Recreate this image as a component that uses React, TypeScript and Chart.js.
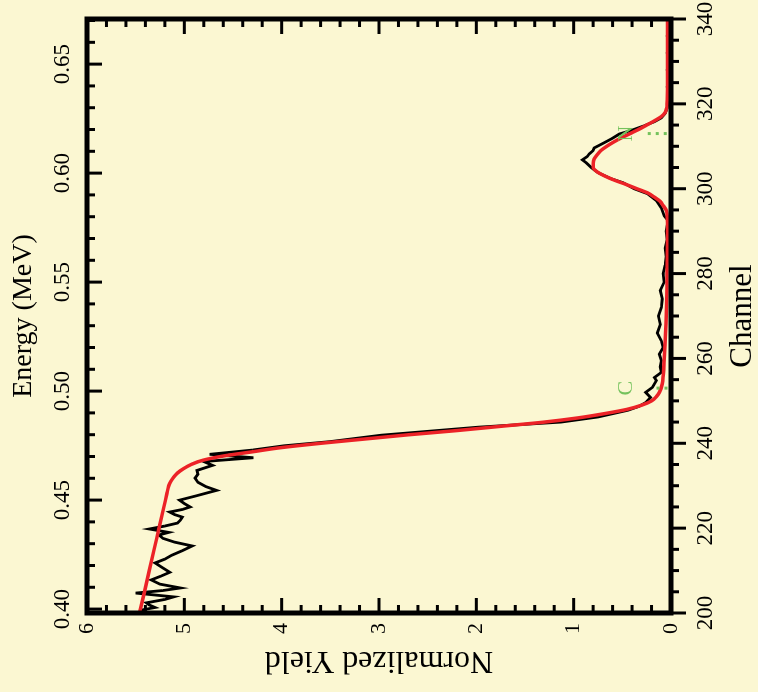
import React, { useEffect, useRef } from 'react';
import { Chart, registerables } from 'chart.js';

Chart.register(...registerables);

// Axis ticks
const channelTicks = [200, 220, 240, 260, 280, 300, 320, 340];
const energyTicks = [0.4, 0.45, 0.5, 0.55, 0.6, 0.65];
const energyTickLabels = ['0.40', '0.45', '0.50', '0.55', '0.60', '0.65'];
const yieldTicks = [0, 1, 2, 3, 4, 5, 6];

// Energy calibration at the channel axis ends (MeV)
const ENERGY_MIN = 0.3982;
const ENERGY_MAX = 0.6707;

// Measured spectrum
const measuredChannel = [
  200.2, 200.7, 201.3, 201.9, 202.4, 203.2, 203.8, 204.7, 205.3, 205.9,
  206.8, 207.8, 208.7, 209.6, 210.6, 211.8, 212.7, 213.6, 214.7, 215.8,
  216.7, 217.6, 218.4, 219.0, 219.8, 220.5, 221.2, 221.9, 222.6, 223.2,
  223.8, 224.4, 225.0, 225.8, 226.6, 227.6, 228.9, 229.8, 230.8, 231.8,
  232.7, 233.6, 234.8, 235.7, 236.6, 237.4, 238.4, 239.4, 240.4, 241.9,
  243.8, 245.0, 246.2, 247.8, 248.7, 249.6, 250.8, 252.0, 253.2, 254.8,
  255.5, 256.7, 258.0, 259.5, 261.0, 262.6, 264.2, 266.0, 268.0, 270.0,
  272.0, 274.0, 276.0, 278.0, 280.0, 282.0, 284.0, 286.0, 288.0, 290.0,
  292.5, 293.6, 295.5, 297.2, 298.8, 300.0, 301.4, 302.4, 303.8, 305.0,
  306.1, 306.8, 307.6, 308.2, 309.0, 309.6, 310.8, 311.9, 312.9, 313.8,
  314.8, 315.8, 316.7, 317.8, 319.0, 320.5, 322.0, 324.0, 326.0, 328.0,
  330.0, 332.0, 334.0, 336.0, 338.0, 340.0,
];
const measuredYield = [
  5.42, 5.44, 5.30, 5.36, 5.39, 5.20, 5.11, 5.50, 5.22, 5.04,
  5.25, 5.34, 5.24, 5.15, 5.22, 5.30, 5.20, 5.13, 5.02, 4.92,
  5.10, 5.22, 5.26, 5.16, 5.36, 5.20, 5.07, 5.04, 5.02, 5.10,
  5.15, 5.02, 4.94, 5.00, 5.05, 4.88, 4.67, 4.78, 4.86, 4.89,
  4.86, 4.87, 4.71, 4.80, 4.29, 4.74, 4.30, 3.98, 3.50, 2.98,
  1.98, 1.13, 0.75, 0.44, 0.33, 0.26, 0.21, 0.26, 0.19, 0.15,
  0.17, 0.10, 0.11, 0.10, 0.12, 0.08, 0.10, 0.14, 0.11, 0.13,
  0.10, 0.09, 0.11, 0.07, 0.08, 0.06, 0.05, 0.06, 0.04, 0.05,
  0.03, 0.07, 0.10, 0.15, 0.24, 0.38, 0.49, 0.62, 0.75, 0.82,
  0.87, 0.91, 0.86, 0.84, 0.80, 0.79, 0.69, 0.60, 0.53, 0.40,
  0.28, 0.17, 0.10, 0.06, 0.04, 0.03, 0.02, 0.04, 0.02, 0.04,
  0.02, 0.04, 0.02, 0.04, 0.02, 0.03,
];

// Simulated fit
const fitChannel = [
  200, 205, 210, 215, 220, 225, 228, 230, 231, 232,
  233, 234, 235, 236, 237, 238, 239, 240, 241, 242,
  243, 244, 245, 246, 247, 248, 249, 250, 251, 252,
  254, 256, 260, 270, 280, 290, 292, 294, 295, 296,
  297, 298, 299, 300, 301, 302, 303, 304, 305, 306,
  307, 308, 309, 310, 311, 312, 313, 314, 315, 316,
  317, 318, 319, 320, 325, 330, 340,
];
const fitYield = [
  5.46, 5.41, 5.36, 5.31, 5.26, 5.21, 5.18, 5.16, 5.14, 5.11,
  5.07, 5.01, 4.93, 4.81, 4.60, 4.30, 4.00, 3.60, 3.15, 2.70,
  2.20, 1.75, 1.30, 0.95, 0.68, 0.45, 0.30, 0.20, 0.15, 0.12,
  0.09, 0.08, 0.07, 0.05, 0.04, 0.035, 0.035, 0.04, 0.05, 0.08,
  0.11, 0.17, 0.24, 0.35, 0.46, 0.58, 0.68, 0.76, 0.80, 0.80,
  0.79, 0.76, 0.72, 0.66, 0.59, 0.51, 0.42, 0.33, 0.25, 0.17,
  0.10, 0.06, 0.045, 0.04, 0.035, 0.035, 0.035,
];

// Surface edge markers
const markerChannels = [253, 313];
const markerNames = ['C', 'N'];
const markerLabelYield = [0.46, 0.46];
const markerLineTop = [0.15, 0.24];

const BG = '#FBF7D2';
const FONT = '"Liberation Serif", "Times New Roman", serif';
const MARKER_COLOR = '#74C25C';

const W = 692;
const H = 758;

const framePlugin = {
  id: 'frameAndMarks',
  beforeDraw(chart: any) {
    const { ctx } = chart;
    ctx.save();
    ctx.fillStyle = BG;
    ctx.fillRect(0, 0, chart.width, chart.height);
    ctx.restore();
  },
  afterDatasetsDraw(chart: any) {
    const { ctx, chartArea: a, scales } = chart;
    const xs = scales.x;
    const ys = scales.y;
    const es = scales.energy;
    ctx.save();

    // element markers
    ctx.fillStyle = MARKER_COLOR;
    ctx.strokeStyle = MARKER_COLOR;
    ctx.font = `22px ${FONT}`;
    ctx.textAlign = 'center';
    ctx.textBaseline = 'middle';
    markerChannels.forEach((ch, i) => {
      const px = xs.getPixelForValue(ch);
      ctx.fillText(markerNames[i], px, ys.getPixelForValue(markerLabelYield[i]));
      ctx.save();
      ctx.lineWidth = 3;
      ctx.setLineDash([3, 5]);
      ctx.beginPath();
      ctx.moveTo(px, ys.getPixelForValue(markerLineTop[i]));
      ctx.lineTo(px, ys.getPixelForValue(0));
      ctx.stroke();
      ctx.restore();
    });

    // tick marks
    ctx.strokeStyle = '#000';
    ctx.lineCap = 'butt';
    ctx.lineWidth = 3;
    const seg = (x1: number, y1: number, x2: number, y2: number) => {
      ctx.beginPath();
      ctx.moveTo(x1, y1);
      ctx.lineTo(x2, y2);
      ctx.stroke();
    };
    for (let i = 0; i <= 30; i++) {
      const py = ys.getPixelForValue(i * 0.2);
      const len = i % 5 === 0 ? 15 : 8;
      seg(a.left, py, a.left + len, py);
      seg(a.right, py, a.right - len, py);
    }
    for (let i = 40; i <= 67; i++) {
      const px = es.getPixelForValue(i / 100);
      if (px < a.left || px > a.right) continue;
      const len = i % 5 === 0 ? 15 : 8;
      seg(px, a.top, px, a.top + len);
    }
    for (let c = 200; c <= 340; c += 5) {
      const px = xs.getPixelForValue(c);
      const len = c % 20 === 0 ? 15 : 8;
      seg(px, a.bottom, px, a.bottom + len);
    }

    // frame
    ctx.lineWidth = 5;
    ctx.lineJoin = 'miter';
    ctx.strokeRect(a.left, a.top, a.right - a.left, a.bottom - a.top);
    ctx.restore();
  },
};

export default function App() {
  const canvasRef = useRef<HTMLCanvasElement | null>(null);

  useEffect(() => {
    document.body.style.background = BG;
    const canvas = canvasRef.current;
    if (!canvas) return;

    const measured = measuredChannel.map((c, i) => ({ x: c, y: measuredYield[i] }));
    const fit = fitChannel.map((c, i) => ({ x: c, y: fitYield[i] }));

    const tickFont = { family: FONT, size: 23 };
    const fixHorizontal = (h: number) => (s: any) => {
      s.height = h;
      s.paddingLeft = 0;
      s.paddingRight = 0;
    };

    const chart = new Chart(canvas, {
      type: 'line',
      data: {
        datasets: [
          {
            label: 'Fit',
            data: fit,
            borderColor: '#EC2227',
            borderWidth: 3.5,
            pointRadius: 0,
            fill: false,
            cubicInterpolationMode: 'monotone',
          },
          {
            label: 'Measured',
            data: measured,
            borderColor: '#000000',
            borderWidth: 2.8,
            pointRadius: 0,
            fill: false,
            tension: 0,
          },
        ],
      },
      options: {
        responsive: false,
        devicePixelRatio: 1,
        animation: false,
        events: [],
        layout: { padding: { left: 0, top: 0, bottom: 0, right: 19 } },
        plugins: { legend: { display: false }, tooltip: { enabled: false } },
        scales: {
          x: {
            type: 'linear',
            position: 'bottom',
            min: 200,
            max: 340,
            afterBuildTicks: (s: any) => {
              s.ticks = channelTicks.map((v) => ({ value: v }));
            },
            afterFit: fixHorizontal(87),
            grid: { display: false, drawTicks: false },
            border: { display: false },
            ticks: {
              font: tickFont,
              color: '#000',
              padding: 21,
              maxRotation: 0,
              minRotation: 0,
              autoSkip: false,
              callback: (v: any) => String(v),
            },
            title: {
              display: true,
              text: 'Channel',
              color: '#000',
              font: { family: FONT, size: 31, lineHeight: 1 },
              padding: { top: 0, bottom: 0 },
            },
          },
          energy: {
            type: 'linear',
            position: 'top',
            min: ENERGY_MIN,
            max: ENERGY_MAX,
            afterBuildTicks: (s: any) => {
              s.ticks = energyTicks.map((v) => ({ value: v }));
            },
            afterFit: fixHorizontal(87),
            grid: { display: false, drawTicks: false },
            border: { display: false },
            ticks: {
              font: tickFont,
              color: '#000',
              padding: 10,
              maxRotation: 0,
              minRotation: 0,
              autoSkip: false,
              callback: (_v: any, i: number) => energyTickLabels[i],
            },
            title: {
              display: true,
              text: 'Energy (MeV)',
              color: '#000',
              font: { family: FONT, size: 28 },
              padding: { top: 7, bottom: 0 },
            },
          },
          y: {
            type: 'linear',
            position: 'left',
            min: 0,
            max: 6,
            afterBuildTicks: (s: any) => {
              s.ticks = yieldTicks.map((v) => ({ value: v }));
            },
            afterFit: (s: any) => {
              s.width = 79;
              s.paddingTop = 0;
              s.paddingBottom = 0;
            },
            grid: { display: false, drawTicks: false },
            border: { display: false },
            ticks: {
              font: { family: FONT, size: 22 },
              color: '#000',
              padding: 10,
              autoSkip: false,
              callback: (v: any) => String(v),
            },
            title: {
              display: true,
              text: 'Normalized Yield',
              color: '#000',
              font: { family: FONT, size: 32 },
              padding: { top: 12, bottom: 0 },
            },
          },
        },
      } as any,
      plugins: [framePlugin],
    });

    return () => {
      chart.destroy();
    };
  }, []);

  return (
    <div
      style={{
        position: 'fixed',
        left: 0,
        top: 0,
        width: H,
        height: W,
        overflow: 'hidden',
        background: BG,
      }}
    >
      <canvas
        ref={canvasRef}
        width={W}
        height={H}
        style={{
          position: 'absolute',
          left: 0,
          top: 0,
          width: W,
          height: H,
          transformOrigin: '0 0',
          transform: `translateY(${W}px) rotate(-90deg)`,
        }}
      />
    </div>
  );
}
